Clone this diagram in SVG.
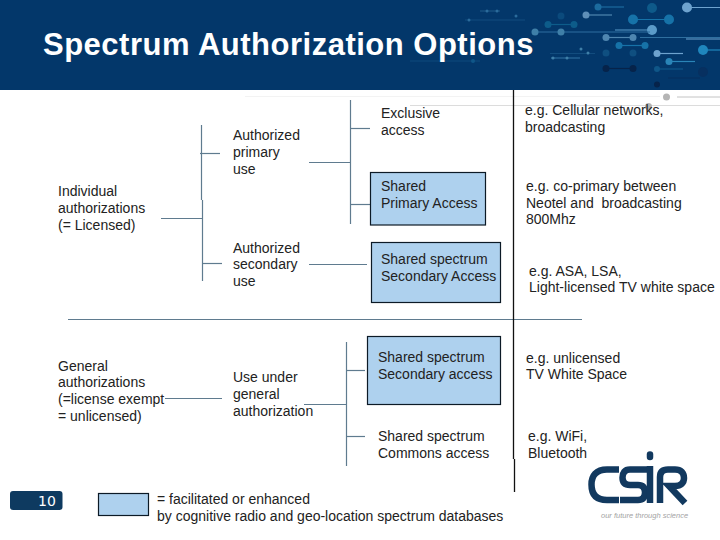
<svg xmlns="http://www.w3.org/2000/svg" width="720" height="540" viewBox="0 0 720 540">
<style>
text{font-family:"Liberation Sans",Arial,sans-serif;font-size:14px;fill:#222}
.title{font-size:31px;font-weight:700;fill:#fff;letter-spacing:.5px}
.c line{stroke:#5f7b8f;stroke-width:1.2}
.k line{stroke:#111;stroke-width:1.3}
.box{fill:#aed1ee;stroke:#0c1a26;stroke-width:1.2}
.d line{stroke-width:1.2}
.logo path{fill:none;stroke:#12395f;stroke-width:6.5}
</style>
<rect width="720" height="540" fill="#fff"/>
<g id="header">
<rect width="720" height="90" fill="#03376a"/>
<g class="d">
<line x1="598" y1="7" x2="624" y2="7" stroke="#1c6b9e"/><circle cx="598" cy="7" r="3.5" fill="#1c6b9e"/>
<line x1="586" y1="15" x2="612" y2="15" stroke="#4f86b0"/><circle cx="586" cy="15" r="3.5" fill="#5f8fb8"/>
<line x1="633" y1="19.5" x2="669" y2="19.5" stroke="#1672a8"/><circle cx="633" cy="19.5" r="5" fill="#1672a8"/><circle cx="669" cy="19.5" r="5" fill="#1672a8"/>
<line x1="615" y1="30" x2="652" y2="30" stroke="#5b9bc9"/><circle cx="652" cy="30" r="5" fill="#5b9bc9"/>
<circle cx="652" cy="8" r="5" fill="#0e5a8a"/>
<line x1="535" y1="32" x2="650" y2="32" stroke="#2f6f9f"/><circle cx="535" cy="32" r="3.5" fill="#3f7fa8"/><circle cx="561" cy="32" r="3.5" fill="#3f7fa8"/>
<line x1="548" y1="24.5" x2="574" y2="24.5" stroke="#0d5c8a"/><circle cx="548" cy="24.5" r="3.5" fill="#0d5c8a"/><circle cx="574" cy="24.5" r="3.5" fill="#0d5c8a"/>
<circle cx="561" cy="16" r="3.5" fill="#0b4a7c"/>
<line x1="606" y1="37.5" x2="633" y2="37.5" stroke="#4f86b0"/><circle cx="606" cy="37.5" r="3.5" fill="#4f86b0"/><circle cx="633" cy="37.5" r="3.5" fill="#4f86b0"/>
<line x1="640" y1="37.5" x2="720" y2="37.5" stroke="#2f6f9f"/>
<line x1="686" y1="39" x2="720" y2="39" stroke="#6ea3cf"/>
<line x1="619" y1="45.5" x2="645" y2="45.5" stroke="#1672a8"/><circle cx="619" cy="45.5" r="3.5" fill="#1672a8"/><circle cx="645" cy="45.5" r="3.5" fill="#1672a8"/>
<line x1="657" y1="53.5" x2="683" y2="53.5" stroke="#6ea3cf"/><circle cx="657" cy="53.5" r="3.5" fill="#6ea3cf"/>
<line x1="669" y1="61.5" x2="695" y2="61.5" stroke="#2a85b8"/><circle cx="669" cy="61.5" r="3.5" fill="#2a85b8"/>
<line x1="703" y1="50" x2="720" y2="50" stroke="#1f86bd"/><circle cx="703" cy="50" r="5" fill="#1f86bd"/>
<line x1="687" y1="7.5" x2="720" y2="7.5" stroke="#6ea3cf"/><circle cx="687" cy="7.5" r="5" fill="#6ea3cf"/>
<line x1="606" y1="68.5" x2="633" y2="68.5" stroke="#06234a"/><circle cx="606" cy="68.5" r="3.5" fill="#06234a"/><circle cx="633" cy="68.5" r="3.5" fill="#06234a"/>
<circle cx="606" cy="53" r="3.5" fill="#0f4f80"/><circle cx="633" cy="53" r="3.5" fill="#0f4f80"/>
<circle cx="657" cy="84.5" r="3" fill="#06234a"/><circle cx="703" cy="72" r="5" fill="#073060"/>
<line x1="657" y1="69" x2="683" y2="69" stroke="#0f5688"/><circle cx="657" cy="69" r="3" fill="#0f5688"/>
<line x1="668" y1="78" x2="700" y2="78" stroke="#06305e"/>
<line x1="480" y1="11" x2="500" y2="11" stroke="#1b5585"/><circle cx="487" cy="11" r="1.5" fill="#2b6b9b"/><circle cx="497" cy="11" r="1.5" fill="#2b6b9b"/>
<line x1="465" y1="20" x2="525" y2="20" stroke="#124c7e"/><circle cx="469" cy="20" r="1.5" fill="#2b6b9b"/><circle cx="516" cy="16" r="1.5" fill="#2b6b9b"/>
<line x1="550" y1="53.5" x2="595" y2="53.5" stroke="#124c7e"/><circle cx="581" cy="49" r="1.5" fill="#3f7fa8"/><circle cx="588" cy="53" r="1.5" fill="#3f7fa8"/>
<line x1="551" y1="58" x2="580" y2="58" stroke="#2b6b9b"/><circle cx="553" cy="58" r="1.5" fill="#3f7fa8"/><circle cx="567" cy="58" r="1.5" fill="#3f7fa8"/>
<line x1="410" y1="61" x2="480" y2="61" stroke="#0f4a7c"/><circle cx="473" cy="61" r="2" fill="#0f5688"/>
</g>
<text class="title" x="43" y="55">Spectrum Authorization Options</text>
</g>
<g id="backdrop">
<line x1="245" y1="96.5" x2="660" y2="96.5" stroke="#f3f3f3"/>
<line x1="410" y1="105.5" x2="720" y2="105.5" stroke="#dcdcdc"/>
<line x1="677" y1="97" x2="720" y2="97" stroke="#c4c4c4"/>
<circle cx="666.5" cy="97" r="3.5" fill="#b5b5b5"/>
<circle cx="648.5" cy="106.5" r="3.5" fill="#b5b5b5"/>
</g>
<g id="connectors">
<g class="c">
<line x1="201.5" y1="125" x2="201.5" y2="200"/>
<line x1="202.5" y1="200" x2="202.5" y2="281"/>
<line x1="161" y1="218.5" x2="202" y2="218.5"/>
<line x1="200" y1="153.5" x2="220" y2="153.5"/>
<line x1="202" y1="263.5" x2="222" y2="263.5"/>
<line x1="350.5" y1="100" x2="350.5" y2="224"/>
<line x1="350" y1="128.5" x2="370" y2="128.5"/>
<line x1="309" y1="162.5" x2="350" y2="162.5"/>
<line x1="350" y1="204.5" x2="370" y2="204.5"/>
<line x1="309" y1="264.5" x2="367" y2="264.5"/>
<line x1="68" y1="319.5" x2="582" y2="319.5"/>
<line x1="165" y1="398.5" x2="222" y2="398.5"/>
<line x1="346.5" y1="342" x2="346.5" y2="466"/>
<line x1="346" y1="370.5" x2="365" y2="370.5"/>
<line x1="304" y1="404.5" x2="346" y2="404.5"/>
<line x1="346" y1="436.5" x2="365" y2="436.5"/>
</g>
<g class="k">
<line x1="513.5" y1="90" x2="513.5" y2="459"/>
<line x1="514.5" y1="459" x2="514.5" y2="492"/>
</g>
</g>
<g id="individual"><text x="58" y="196">Individual</text><text x="58" y="213">authorizations</text><text x="58" y="230">(= Licensed)</text></g>
<g id="general"><text x="58" y="371">General</text><text x="58" y="387">authorizations</text><text x="58" y="404">(=license exempt</text><text x="58" y="421">= unlicensed)</text></g>
<g id="primary-use"><text x="233" y="140">Authorized</text><text x="233" y="157">primary</text><text x="233" y="174">use</text></g>
<g id="secondary-use"><text x="233" y="253">Authorized</text><text x="233" y="269">secondary</text><text x="233" y="286">use</text></g>
<g id="general-use"><text x="233" y="382">Use under</text><text x="233" y="399">general</text><text x="233" y="416">authorization</text></g>
<g id="exclusive"><text x="381" y="118">Exclusive</text><text x="381" y="135">access</text></g>
<g id="shared-primary"><rect class="box" x="370.5" y="172.5" width="115" height="52.5"/><text x="381" y="191">Shared</text><text x="381" y="208">Primary Access</text></g>
<g id="shared-secondary"><rect class="box" x="371.5" y="242.5" width="129" height="60"/><text x="381" y="264">Shared spectrum</text><text x="381" y="281">Secondary Access</text></g>
<g id="shared-secondary-general"><rect class="box" x="367.5" y="336.5" width="133" height="68"/><text x="378" y="362">Shared spectrum</text><text x="378" y="379">Secondary access</text></g>
<g id="commons"><text x="378" y="441">Shared spectrum</text><text x="378" y="458">Commons access</text></g>
<g id="ex-cellular"><text x="525" y="115">e.g. Cellular networks,</text><text x="525" y="132">broadcasting</text></g>
<g id="ex-coprimary"><text x="526" y="191">e.g. co-primary between</text><text x="526" y="208" xml:space="preserve">Neotel and  broadcasting</text><text x="526" y="224">800Mhz</text></g>
<g id="ex-asa"><text x="529" y="276">e.g. ASA, LSA,</text><text x="529" y="292">Light-licensed TV white space</text></g>
<g id="ex-unlicensed"><text x="526" y="363">e.g. unlicensed</text><text x="526" y="379">TV White Space</text></g>
<g id="ex-wifi"><text x="528" y="441">e.g. WiFi,</text><text x="528" y="458">Bluetooth</text></g>
<g id="page-number"><rect x="10" y="491" width="52.5" height="19" rx="3" fill="#0e3a60"/><text x="38" y="506" style="fill:#fff;font-family:'DejaVu Sans',sans-serif;font-size:14px">10</text></g>
<g id="legend"><rect class="box" x="98.5" y="493.5" width="50" height="22"/><text x="157" y="504">= facilitated or enhanced</text><text x="157" y="521">by cognitive radio and geo-location spectrum databases</text></g>
<g id="logo" class="logo">
<path d="M619 469.500H607C596 469.500 591.500 476 591.500 484.500C591.500 494 596 500 607 500H619"/>
<path d="M647 469.500H630C624.500 469.500 622.500 473 622.500 477.500C622.500 482 624.500 485 630 485H638C643 485 645 488 645 492.500C645 497 643 500 638 500H620"/>
<path d="M650 466V503"/><path d="M650 454.500V457" stroke-linecap="round"/>
<path d="M660 503V477Q660 469.500 668 469.500H675C681 469.500 684 473 684 478C684 483 681 486 675 486H669L685 503"/>
<text x="601" y="518" style="font-size:7.500px;font-style:italic;fill:#a3a3a3;stroke:none">our future through science</text>
</g>
</svg>
